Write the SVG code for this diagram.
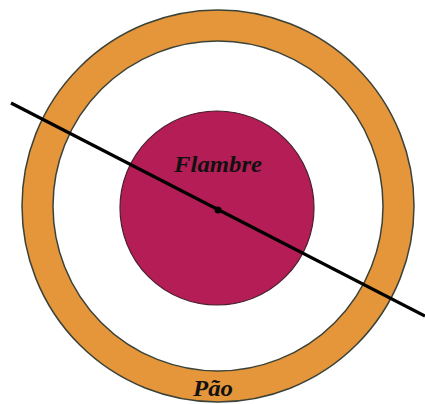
<svg xmlns="http://www.w3.org/2000/svg" width="425" height="404" viewBox="0 0 425 404">
<style>
.lbl{font-family:"Liberation Serif","DejaVu Serif",serif;font-style:italic;font-weight:bold;font-size:23px;fill:#111;text-anchor:middle}
.edge{fill:none;stroke:#3b4238;stroke-width:1.5}
</style>
<rect width="425" height="404" fill="#ffffff"/>
<g id="pao">
<circle cx="218" cy="206" r="180.5" fill="none" stroke="#E5963B" stroke-width="31"/>
<circle class="edge" cx="218" cy="206" r="196"/>
<circle class="edge" cx="218" cy="206" r="165"/>
<text class="lbl" x="213" y="396" textLength="40" lengthAdjust="spacingAndGlyphs">Pão</text>
</g>
<g id="flambre">
<circle cx="217" cy="208" r="97" fill="#B41D55" stroke="#4a2030" stroke-width="1.2"/>
<text class="lbl" x="218" y="172" textLength="88" lengthAdjust="spacingAndGlyphs">Flambre</text>
</g>
<g id="connectors">
<line x1="11" y1="103" x2="425" y2="316" stroke="#000" stroke-width="3.2"/>
<circle cx="218" cy="210" r="3.5" fill="#000"/>
</g>
</svg>
